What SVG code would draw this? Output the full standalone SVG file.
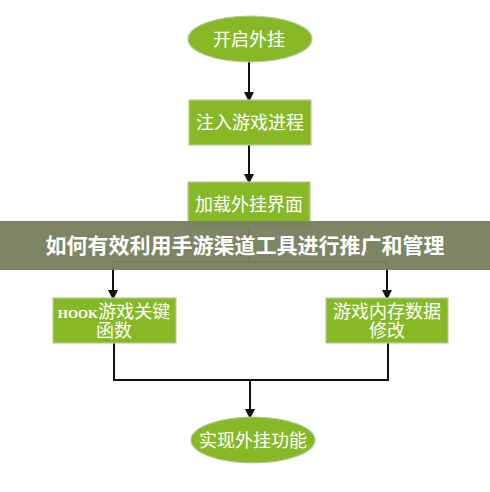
<svg xmlns="http://www.w3.org/2000/svg" width="490" height="492" viewBox="0 0 490 492">
<defs>
<style>
.n{fill:#87b927;stroke:#b9c9a0;stroke-width:1.2}
.t{fill:#ffffff;font-family:"Liberation Serif","Noto Sans CJK SC",serif;font-size:18px;text-anchor:middle}
.e{font-family:"Noto Sans CJK SC",sans-serif}
.c{fill:none;stroke:#111;stroke-width:2}
</style>
<marker id="ah" markerWidth="10" markerHeight="10" refX="8" refY="5" orient="auto" markerUnits="userSpaceOnUse">
<path d="M0,0 L10,5 L0,10 Z" fill="#111"/>
</marker>
</defs>
<rect width="490" height="492" fill="#ffffff"/>
<g id="connectors">
<path class="c" d="M249,62 V100" marker-end="url(#ah)"/>
<path class="c" d="M249,145 V182" marker-end="url(#ah)"/>
<path class="c" d="M249,228 V262"/>
<path class="c" d="M113,262 H387"/>
<path class="c" d="M113,262 V298" marker-end="url(#ah)"/>
<path class="c" d="M387,262 V298" marker-end="url(#ah)"/>
<path class="c" d="M114,343 V380 H388 V343"/>
<path class="c" d="M250,380 V417" marker-end="url(#ah)"/>
</g>
<g id="n1"><ellipse class="n" cx="250" cy="39" rx="62" ry="23"/><text class="t e" x="249" y="45.5" font-size="19">开启外挂</text></g>
<g id="n2"><rect class="n" x="189" y="100" width="122" height="45"/><text class="t" x="250" y="129">注入游戏进程</text></g>
<g id="n3"><rect class="n" x="188" y="182" width="122" height="46"/><text class="t" x="249" y="211">加载外挂界面</text></g>
<g id="banner"><rect x="0" y="221" width="490" height="49" fill="#79815f" fill-opacity="0.97"/>
<text x="245" y="253" fill="#ffffff" font-family="'Noto Sans CJK SC',sans-serif" font-size="21" font-weight="bold" text-anchor="middle">如何有效利用手游渠道工具进行推广和管理</text></g>
<g id="n4"><rect class="n" x="53" y="298" width="123" height="45"/><text class="t" x="114" y="318" font-size="16"><tspan font-size="13" font-weight="bold">HOOK</tspan>游戏关键</text><text class="t" x="114" y="337" font-size="16">函数</text></g>
<g id="n5"><rect class="n" x="326" y="298" width="122" height="45"/><text class="t" x="387" y="318" font-size="17">游戏内存数据</text><text class="t" x="387" y="337" font-size="17">修改</text></g>
<g id="n6"><ellipse class="n" cx="253" cy="440" rx="62" ry="23"/><text class="t e" x="253" y="446.5">实现外挂功能</text></g>
</svg>
